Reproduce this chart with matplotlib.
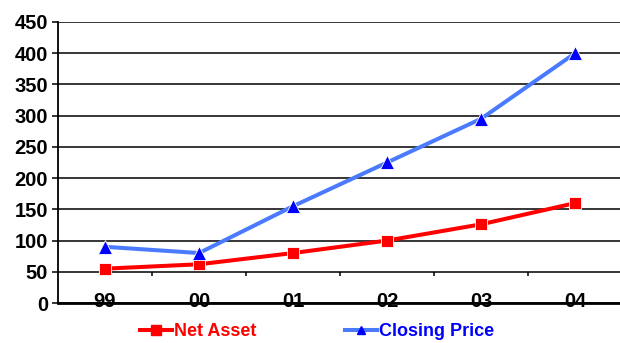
import matplotlib.pyplot as plt
from matplotlib.lines import Line2D

years = ['99', '00', '01', '02', '03', '04']
net_asset = [55, 62, 80, 100, 126, 160]
closing_price = [90, 80, 155, 225, 295, 400]
y_ticks = [0, 50, 100, 150, 200, 250, 300, 350, 400, 450]

plt.rcParams['font.family'] = ['Liberation Sans', 'DejaVu Sans']
plt.rcParams['font.weight'] = 'bold'

fig = plt.figure(figsize=(6.2, 3.43), dpi=100)
ax = fig.add_axes([0.0935, 0.1166, 0.91, 0.8194])

xs = list(range(len(years)))
ax.plot(xs, net_asset, color='#FF0000', lw=2.9, marker='s', ms=8.5,
        mfc='#FF0000', mec='white', mew=0.6, zorder=4)
ax.plot(xs, closing_price, color='#4A7BFF', lw=2.9, marker='^', ms=10,
        mfc='#0000FF', mec='white', mew=0.6, zorder=5)

ax.set_xlim(-0.5, 5.5)
ax.set_ylim(0, 450)
ax.set_yticks(y_ticks)
ax.set_xticks(xs)
ax.set_xticklabels(years)
ax.yaxis.grid(True, color='black', lw=1.1)
ax.set_axisbelow(True)

for s in ['top', 'right']:
    ax.spines[s].set_visible(False)
ax.spines['left'].set_linewidth(1.3)
ax.spines['bottom'].set_linewidth(2)
ax.spines['bottom'].set_zorder(6)

ax.tick_params(axis='y', length=4, width=1.1, pad=3, labelsize=14.5)
ax.tick_params(axis='x', length=0, pad=-8, labelsize=14.5)

# small category separators hanging under the 50 line
for i in range(len(years) - 1):
    ax.vlines(i + 0.5, 44, 50, color='black', lw=1.1)

handles = [
    Line2D([], [], color='#FF0000', lw=2.9, marker='s', ms=6.5, mfc='#FF0000', mec='#FF0000'),
    Line2D([], [], color='#4A7BFF', lw=2.9, marker='^', ms=6, mfc='#0000FF', mec='#0000FF'),
]
leg = fig.legend(handles, ['Net Asset', 'Closing Price'], loc='lower center',
                 bbox_to_anchor=(0.511, -0.04), ncol=2, frameon=False,
                 fontsize=13, handlelength=1.8, handletextpad=0.1,
                 columnspacing=4.9)
for t, c in zip(leg.get_texts(), ['#FF0000', '#0000FF']):
    t.set_color(c)

fig.savefig('out.png', dpi=100)
